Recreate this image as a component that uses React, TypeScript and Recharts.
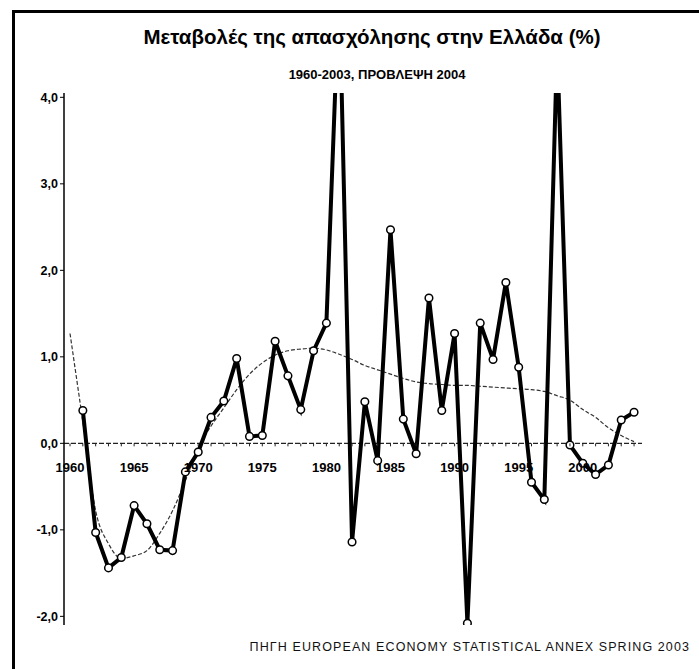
import { LineChart, Line, XAxis, YAxis, ReferenceLine } from 'recharts'

const years = [
  1960, 1961, 1962, 1963, 1964, 1965, 1966, 1967, 1968, 1969,
  1970, 1971, 1972, 1973, 1974, 1975, 1976, 1977, 1978, 1979,
  1980, 1981, 1982, 1983, 1984, 1985, 1986, 1987, 1988, 1989,
  1990, 1991, 1992, 1993, 1994, 1995, 1996, 1997, 1998, 1999,
  2000, 2001, 2002, 2003, 2004,
]

// annual change in employment, %
const employmentChange = [
  null, 0.38, -1.03, -1.44, -1.32, -0.72, -0.93, -1.23, -1.24, -0.33,
  -0.1, 0.3, 0.49, 0.98, 0.08, 0.09, 1.18, 0.78, 0.39, 1.07,
  1.39, 5.3, -1.14, 0.48, -0.2, 2.47, 0.28, -0.12, 1.68, 0.38,
  1.27, -2.08, 1.39, 0.97, 1.86, 0.88, -0.45, -0.65, 4.6, -0.02,
  -0.23, -0.36, -0.25, 0.27, 0.36,
]

// smoothed trend (thin dashed line)
const trend = [
  1.27, 0.25, -0.78, -1.16, -1.33, -1.3, -1.24, -1.04, -0.78, -0.43,
  -0.05, 0.2, 0.41, 0.62, 0.8, 0.93, 1.02, 1.07, 1.09, 1.1,
  1.08, 1.03, 0.97, 0.9, 0.85, 0.8, 0.75, 0.71, 0.69, 0.68,
  0.67, 0.67, 0.66, 0.65, 0.64, 0.63, 0.62, 0.6, 0.55, 0.5,
  0.39, 0.3, 0.18, 0.09, 0.02,
]

const yTicks = [-2, -1, 0, 1, 2, 3, 4]
const yearLabels = [1960, 1965, 1970, 1975, 1980, 1985, 1990, 1995, 2000]

const title = 'Μεταβολές της απασχόλησης στην Ελλάδα (%)'
const subtitle = '1960-2003, ΠΡΟΒΛΕΨΗ 2004'
const source = 'ΠΗΓΗ EUROPEAN ECONOMY STATISTICAL ANNEX SPRING 2003'

const data = years.map((year, i) => ({
  year,
  value: employmentChange[i],
  trend: trend[i],
}))

const W = 699
const H = 669
const TOP = 93
const BOTTOM = 14
const X_AXIS_H = 30
const PLOT_H = H - TOP - BOTTOM - X_AXIS_H
const Y_MIN = -2.1
const Y_MAX = 4.05
const ZERO_Y = TOP + (Y_MAX / (Y_MAX - Y_MIN)) * PLOT_H

const font = '"Liberation Sans", Arial, sans-serif'

function YearTick({ x, payload }: any) {
  const year = payload.value
  const showLabel = yearLabels.includes(year)
  return (
    <g>
      <line x1={x} x2={x} y1={ZERO_Y} y2={ZERO_Y + 3} stroke="#222" strokeWidth={1} />
      {showLabel && (
        <text
          x={x}
          y={ZERO_Y + 29}
          textAnchor="middle"
          fontSize={13}
          fontWeight="bold"
          fontFamily={font}
          fill="#000"
        >
          {year}
        </text>
      )}
    </g>
  )
}

export default function App() {
  return (
    <div
      style={{
        position: 'absolute',
        left: 0,
        top: 0,
        width: W,
        height: H,
        background: '#fff',
        overflow: 'hidden',
        fontFamily: font,
      }}
    >
      <div
        style={{
          position: 'absolute',
          left: 12,
          top: 10,
          right: -5,
          bottom: -5,
          borderTop: '3px solid #000',
          borderLeft: '3px solid #000',
        }}
      />
      <div
        style={{
          position: 'absolute',
          left: 72,
          width: 600,
          top: 27,
          fontSize: 20.5,
          lineHeight: '20px',
          fontWeight: 'bold',
          textAlign: 'center',
          color: '#000',
        }}
      >
        {title}
      </div>
      <div
        style={{
          position: 'absolute',
          left: 77,
          width: 600,
          top: 68,
          fontSize: 13,
          lineHeight: '13px',
          fontWeight: 'bold',
          textAlign: 'center',
          color: '#000',
        }}
      >
        {subtitle}
      </div>
      <div
        style={{
          position: 'absolute',
          right: 9,
          top: 641,
          fontSize: 12.5,
          lineHeight: '13px',
          letterSpacing: 1.1,
          color: '#111',
          whiteSpace: 'nowrap',
        }}
      >
        {source}
      </div>
      <div style={{ position: 'absolute', left: 0, top: 0 }}>
        <LineChart
          width={W}
          height={H}
          data={data}
          margin={{ top: TOP, right: 57, left: 16, bottom: BOTTOM }}
        >
          <XAxis
            dataKey="year"
            type="number"
            domain={[1959.53, 2004.62]}
            allowDataOverflow
            ticks={years}
            interval={0}
            axisLine={false}
            tickLine={false}
            height={X_AXIS_H}
            tick={<YearTick />}
          />
          <YAxis
            type="number"
            domain={[Y_MIN, Y_MAX]}
            allowDataOverflow
            ticks={yTicks}
            interval={0}
            width={48}
            axisLine={{ stroke: '#000', strokeWidth: 1.5 }}
            tickLine={{ stroke: '#000', strokeWidth: 1 }}
            tickSize={4}
            tick={{ fontSize: 12.5, fontWeight: 'bold', fill: '#000', fontFamily: font }}
            tickFormatter={(v: number) => v.toFixed(1).replace('.', ',')}
          />
          <ReferenceLine y={0} stroke="#222" strokeWidth={1.2} strokeDasharray="5 2" />
          <Line
            dataKey="trend"
            type="monotone"
            stroke="#333"
            strokeWidth={1.2}
            strokeDasharray="4 2"
            dot={false}
            activeDot={false}
            isAnimationActive={false}
          />
          <Line
            dataKey="value"
            type="linear"
            stroke="#000"
            strokeWidth={4}
            dot={{ r: 3.8, fill: '#fff', stroke: '#000', strokeWidth: 1.5 }}
            activeDot={false}
            isAnimationActive={false}
          />
        </LineChart>
      </div>
    </div>
  )
}
